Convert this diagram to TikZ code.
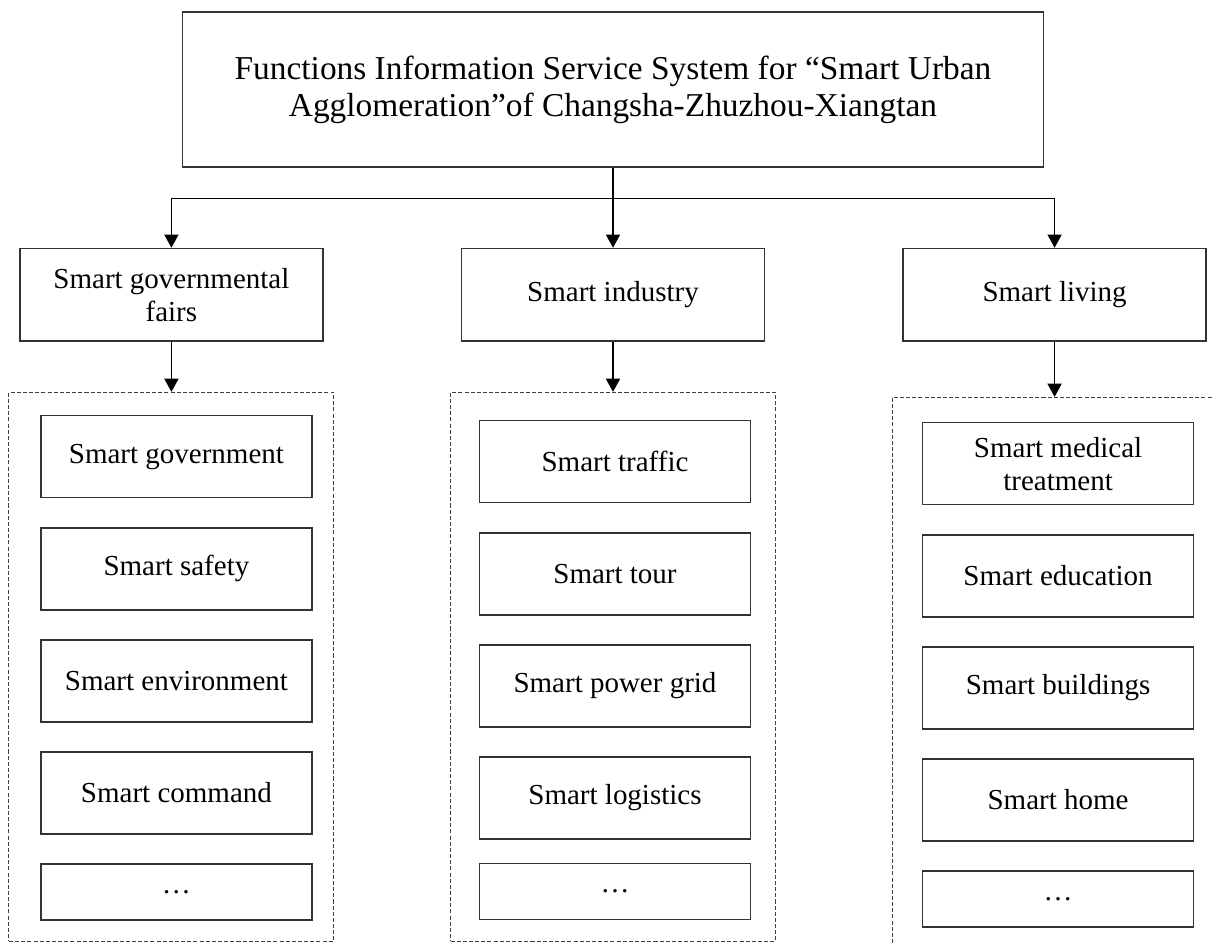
\documentclass[tikz,border=0pt]{standalone}
\usepackage{fontspec}
\setmainfont{Liberation Serif}
\usetikzlibrary{positioning,arrows.meta}

\begin{document}
\begin{tikzpicture}[
    node distance=0.57cm,
    box/.style={rectangle, draw=black!80, line width=0.9pt, minimum width=5.42cm, minimum height=1.64cm, align=center, font=\fontsize{16.5pt}{18.8pt}\selectfont},
    headbox/.style={box, minimum width=6.06cm, minimum height=1.85cm},
    morebox/.style={box, minimum height=1.12cm},
    group/.style={rectangle, draw=black!75, dash pattern=on 2.3pt off 1.2pt, line width=0.6pt, minimum width=6.5cm, minimum height=10.98cm},
    arrow/.style={-{Triangle[width=8pt,length=7.5pt]}, line width=0.8pt}
]
\clip (0,0) rectangle (24.24,-18.88);

\node[box, minimum width=17.22cm, minimum height=3.1cm, font=\fontsize{19pt}{21pt}\selectfont] (system) at (12.26,-1.79) {Functions Information Service System for “Smart Urban\\Agglomeration”of Changsha-Zhuzhou-Xiangtan};

\node[headbox, below=1.6cm of system] (industry) {Smart industry};
\node[headbox, left=2.74cm of industry] (gov) {Smart governmental\\fairs};
\node[headbox, right=2.74cm of industry] (living) {Smart living};

\node[group, below=1cm of gov] (govlist) {};
\node[group, below=1cm of industry] (indlist) {};
\node[group, below=1.1cm of living] (livlist) {};

\node[box, below=0.46cm of govlist.north, xshift=0.1cm] (government) {Smart government};
\node[box, below=of government] (safety) {Smart safety};
\node[box, below=of safety] (environment) {Smart environment};
\node[box, below=of environment] (command) {Smart command};
\node[morebox, below=of command] (govmore) {…};

\node[box, below=0.56cm of indlist.north, xshift=0.04cm] (traffic) {Smart traffic};
\node[box, below=of traffic] (tour) {Smart tour};
\node[box, below=of tour] (grid) {Smart power grid};
\node[box, below=of grid] (logistics) {Smart logistics};
\node[morebox, below=0.46cm of logistics] (indmore) {…};

\node[box, below=0.5cm of livlist.north, xshift=0.07cm] (medical) {Smart medical\\treatment};
\node[box, below=of medical] (education) {Smart education};
\node[box, below=of education] (buildings) {Smart buildings};
\node[box, below=of buildings] (home) {Smart home};
\node[morebox, below=of home] (livmore) {…};

\draw[arrow] (system.south) -- ++(0,-0.62) -| (gov.north);
\draw[arrow] (system.south) -- (industry.north);
\draw[arrow] (system.south) -- ++(0,-0.62) -| (living.north);
\draw[arrow] (gov) -- (govlist);
\draw[arrow] (industry) -- (indlist);
\draw[arrow] (living) -- (livlist);
\end{tikzpicture}
\end{document}
